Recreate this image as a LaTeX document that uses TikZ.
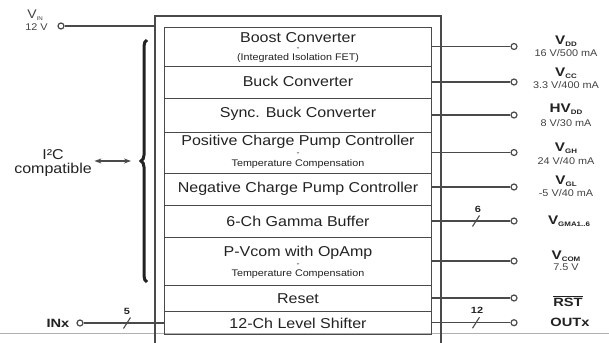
\documentclass[tikz,border=0pt]{standalone}
\usepackage{fontspec}
\setmainfont{Liberation Sans}[FakeStretch=1.12]
\newfontfamily\bsf{Liberation Sans}[FakeStretch=1.22]
\usetikzlibrary{decorations.pathreplacing,arrows.meta,calc}
\definecolor{lc}{HTML}{4A4A4A}
\definecolor{tc}{HTML}{222222}
\definecolor{gl}{HTML}{B0B0B0}
\newcommand\outsym[2]{{\bsf\bfseries\fontsize{12.5}{12.5}\selectfont #1\raisebox{-0.3ex}{\fontsize{6.5}{6.5}\selectfont #2}}}
\newcommand\smalldash{{\fontsize{8}{8}\selectfont -}}
\begin{document}
\begin{tikzpicture}[x=1pt,y=-1pt,
  line/.style={draw=lc, line width=1.1pt},
  rowbox/.style={draw=lc, line width=1.2pt, minimum width=267pt, inner sep=0pt, anchor=north west},
  mainT/.style={text=tc, inner sep=0.5pt, font=\fontsize{14.3}{14.3}\selectfont},
  subT/.style={text=tc, inner sep=0.5pt, align=center, font=\fontsize{9.6}{10.8}\selectfont},
  valT/.style={text=tc!85, inner sep=1pt, font=\fontsize{9.7}{9.7}\selectfont},
  symT/.style={text=tc, inner sep=1pt},
  busT/.style={text=tc, inner sep=1pt, font=\bsf\bfseries\fontsize{9}{9}\selectfont},
  pinT/.style={text=tc, inner sep=1pt, font=\bsf\bfseries\fontsize{12}{12}\selectfont},
  term/.style={circle, draw=lc, line width=1.2pt, fill=white, minimum size=6pt, inner sep=0pt}
]
\useasboundingbox (0,0) rectangle (609,342);
\fill[white] (0,0) rectangle (609,342);

% bottom gray line
\coordinate (glL) at (0,333.5);
\coordinate (glR) at (609,333.5);
\draw[draw=gl, line width=1.2pt] (glL) -- (glR);

% outer box
\coordinate (obBL) at (155,345);
\coordinate (obTL) at (155,16);
\coordinate (obTR) at (441,16);
\coordinate (obBR) at (441,345);
\draw[draw=lc, line width=1.8pt] (obBL) -- (obTL) -- (obTR) -- (obBR);

% rows
\node[rowbox, minimum height=39pt] (boost) at (164,27) {};
\node[rowbox, minimum height=32pt] (buck)  at (164,66) {};
\node[rowbox, minimum height=34pt] (sync)  at (164,98) {};
\node[rowbox, minimum height=41pt] (pos)   at (164,132) {};
\node[rowbox, minimum height=32pt] (neg)   at (164,173) {};
\node[rowbox, minimum height=32pt] (gamma) at (164,205) {};
\node[rowbox, minimum height=48pt] (vcom)  at (164,237) {};
\node[rowbox, minimum height=26pt] (reset) at (164,285) {};
\node[rowbox, minimum height=23pt] (shift) at (164,311) {};

% row texts
\node[mainT] (boostT) at (298,37.2) {Boost Converter};
\node[subT]  (boostS) at (298,55.3) {\smalldash\\(Integrated Isolation FET)};
\node[mainT] (buckT)  at (298,81.7) {Buck Converter};
\node[mainT] (syncT)  at (298,113.5) {Sync. Buck Converter};
\node[mainT] (posT)   at (298,142.2) {Positive Charge Pump Controller};
\node[subT]  (posS)   at (298,160.5) {\smalldash\\Temperature Compensation};
\node[mainT] (negT)   at (298,188.5) {Negative Charge Pump Controller};
\node[mainT] (gammaT) at (298,221) {6-Ch Gamma Buffer};
\node[mainT] (vcomT)  at (298,252.8) {P-Vcom with OpAmp};
\node[subT]  (vcomS)  at (298,271.2) {\smalldash\\Temperature Compensation};
\node[mainT] (resetT) at (298,298.3) {Reset};
\node[mainT] (shiftT) at (298,323.3) {12-Ch Level Shifter};

% output terminals
\node[term] (oVdd) at (514,46.5) {};
\node[term] (oVcc) at (514,82) {};
\node[term] (oHV)  at (514,115) {};
\node[term] (oVgh) at (514,152.5) {};
\node[term] (oVgl) at (514,187) {};
\node[term] (oGma) at (514,221) {};
\node[term] (oCom) at (514,261) {};
\node[term] (oRst) at (514,298) {};
\node[term] (oOut) at (514,322.7) {};

\draw[line] (oVdd -| boost.east) -- (oVdd);
\draw[line] (oVcc -| buck.east) -- (oVcc);
\draw[line] (oHV -| sync.east) -- (oHV);
\draw[line] (oVgh -| pos.east) -- (oVgh);
\draw[line] (oVgl -| neg.east) -- (oVgl);
\draw[line] (oGma -| gamma.east) -- (oGma);
\draw[line] (oCom -| vcom.east) -- (oCom);
\draw[line] (oRst -| reset.east) -- (oRst);
\draw[line] (oOut -| shift.east) -- (oOut);

% bus slashes
\coordinate (s6) at (476,221);
\draw[line] ($(s6)+(-3.5,5.5)$) -- ($(s6)+(3.5,-5.5)$);
\node[busT] (n6) at (478,209) {6};
\coordinate (s12) at (476,322.7);
\draw[line] ($(s12)+(-3.5,5.5)$) -- ($(s12)+(3.5,-5.5)$);
\node[busT] (n12) at (477,310) {12};

% output labels
\node[symT] (lVdd) at (566,41) {\outsym{V}{DD}};
\node[valT] (vVdd) at (566,52.7) {16 V/500 mA};
\node[symT] (lVcc) at (566,73) {\outsym{V}{CC}};
\node[valT] (vVcc) at (566,85) {3.3 V/400 mA};
\node[symT] (lHV)  at (566,109) {\outsym{HV}{DD}};
\node[valT] (vHV)  at (566,123) {8 V/30 mA};
\node[symT] (lVgh) at (566,148) {\outsym{V}{GH}};
\node[valT] (vVgh) at (566,160.7) {24 V/40 mA};
\node[symT] (lVgl) at (566,181.5) {\outsym{V}{GL}};
\node[valT] (vVgl) at (566,192.7) {-5 V/40 mA};
\node[symT] (lGma) at (569,221.5) {\outsym{V}{GMA1..6}};
\node[symT] (lCom) at (566,256) {\outsym{V}{COM}};
\node[valT] (vCom) at (566,267.7) {7.5 V};
\node[pinT] (lRst) at (568,301) {$\overline{\mbox{RST}}$};
\node[pinT] (lOut) at (570,322.7) {OUTx};

% VIN input
\node[term] (vinC) at (61,26) {};
\draw[line] (vinC) -- (vinC -| obTL);
\node[symT, font=\fontsize{12.5}{12.5}\selectfont, text=tc!85] (vinL) at (35,15) {V\raisebox{-0.3ex}{\fontsize{5.5}{5.5}\selectfont IN}};
\node[valT] (vinV) at (36.5,27) {12 V};

% INx input
\node[pinT] (inL) at (58,323) {INx};
\node[term] (inC) at (80,323) {};
\draw[line] (inC) -- (inC -| shift.west);
\coordinate (s5) at (127,323);
\draw[line] ($(s5)+(-3.5,5.5)$) -- ($(s5)+(3.5,-5.5)$);
\node[busT] (n5) at (127,311) {5};

% brace and I2C
\coordinate (brBot) at (147,282);
\coordinate (brTop) at (147,40);
\draw[decorate, decoration={brace, amplitude=6pt}, line width=3pt, draw=tc] (brBot) -- (brTop);
\node[mainT, align=center, font=\fontsize{14.3}{13.4}\selectfont] (i2c) at (53,163) {I²C\\compatible};
\coordinate (i2cR) at (131,161);
\draw[line, {Stealth[length=7pt,width=5pt]}-{Stealth[length=7pt,width=5pt]}] ([xshift=2pt]i2c.east |- i2cR) -- (i2cR);
\end{tikzpicture}
\end{document}
